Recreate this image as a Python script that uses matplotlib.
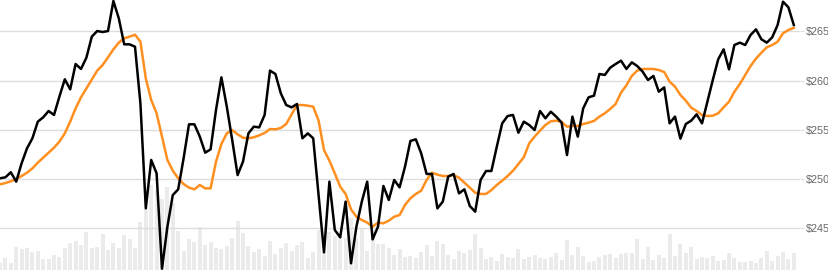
import matplotlib
matplotlib.use("Agg")
import matplotlib.pyplot as plt
import numpy as np

price = [
    250.08, 250.18, 250.69, 249.74, 251.60, 253.12, 254.14, 255.83, 256.27, 256.91, 256.51, 258.37, 260.13, 259.11, 261.68, 261.18, 262.33, 264.46, 265.03,
    264.93, 265.03, 268.08, 266.32, 263.68, 263.68, 263.44, 257.7, 247.03, 251.94, 250.58, 240.9, 245.17, 248.38, 248.96, 252.11, 255.56, 255.56, 254.31,
    252.68, 253.02, 257.01, 260.33, 257.35, 253.97, 250.41, 251.77, 254.64, 255.32, 255.25, 256.51, 261.01, 260.67, 258.71, 257.52, 257.28, 257.62,
    254.14, 254.64, 254.14, 248.38, 242.56, 249.74, 244.83, 244.09, 247.71, 241.45, 245.17, 247.71, 249.74, 243.88, 245.17, 249.30, 247.88, 249.91, 249.16,
    251.26, 253.87, 254.04, 252.61, 250.52, 250.52, 247.03, 247.71, 250.25, 250.52, 248.55, 248.96, 247.27, 246.69, 249.91, 250.82, 250.82, 253.29,
    255.66, 256.40, 256.51, 254.71, 255.83, 255.49, 254.98, 256.91, 256.17, 256.84, 256.34, 255.73, 252.44, 256.34, 254.31, 257.18, 258.30, 258.47, 260.67,
    260.57, 261.31, 261.68, 262.02, 261.18, 261.85, 261.48, 260.91, 260.06, 260.47, 258.87, 259.31, 255.66, 256.34, 254.10, 255.59, 255.93, 256.57, 255.66,
    257.86, 260.06, 262.16, 263.17, 261.14, 263.61, 263.85, 263.61, 264.63, 265.20, 264.19, 263.85, 264.39, 265.64, 268.01, 267.44, 265.64,
]

sma = [
    249.47, 249.60, 249.77, 250.01, 250.31, 250.65, 251.09, 251.67, 252.17, 252.68, 253.19, 253.80, 254.64, 255.83, 257.18, 258.30, 259.21, 260.13, 261.01,
    261.58, 262.36, 263.17, 263.85, 264.29, 264.46, 264.66, 263.95, 260.23, 258.03, 256.68, 254.31, 251.94, 250.85, 250.08, 249.50, 249.13, 248.96, 249.40,
    249.06, 249.06, 251.77, 253.56, 254.64, 254.98, 254.54, 254.20, 254.14, 254.24, 254.44, 254.68, 255.08, 255.05, 255.19, 255.59, 256.57, 257.52,
    257.52, 257.45, 257.35, 255.93, 252.95, 251.87, 250.58, 249.23, 248.49, 246.93, 246.18, 245.85, 245.58, 245.17, 245.58, 245.51, 245.78, 246.18, 246.35,
    247.37, 248.05, 248.49, 248.82, 249.91, 250.65, 250.45, 250.31, 250.31, 250.41, 250.14, 249.64, 249.13, 248.62, 248.49, 248.49, 248.89, 249.40,
    249.84, 250.31, 250.85, 251.53, 252.21, 253.63, 254.31, 254.92, 255.49, 255.86, 255.93, 255.80, 255.32, 255.39, 255.39, 255.59, 255.73, 255.90, 256.34,
    256.68, 257.12, 257.62, 258.77, 259.52, 260.47, 261.01, 261.18, 261.18, 261.18, 261.07, 260.87, 259.89, 259.38, 258.54, 257.96, 257.25, 256.91, 256.51,
    256.40, 256.44, 256.68, 257.28, 257.86, 258.87, 259.65, 260.57, 261.48, 262.23, 262.83, 263.38, 263.61, 263.95, 264.80, 265.14, 265.34,
]

volume = [
    7, 12, 7, 23, 21, 22, 18, 19, 11, 11, 15, 13, 22, 27, 29, 25, 38, 22, 23,
    36, 20, 27, 22, 35, 31, 22, 48, 61, 85, 80, 71, 83, 67, 39, 19, 31, 28, 43,
    25, 28, 22, 21, 24, 32, 49, 37, 24, 18, 21, 14, 29, 16, 22, 27, 19, 25,
    28, 12, 18, 40, 18, 38, 34, 33, 32, 52, 32, 42, 19, 40, 26, 26, 22, 15, 21,
    13, 14, 12, 18, 25, 14, 29, 26, 15, 11, 19, 17, 20, 36, 22, 11, 13, 9,
    16, 13, 12, 21, 11, 13, 15, 12, 11, 13, 17, 10, 30, 15, 23, 14, 8, 9, 13,
    15, 16, 12, 16, 17, 17, 31, 11, 23, 10, 15, 12, 36, 14, 26, 17, 23, 11, 13,
    12, 14, 9, 10, 17, 12, 8, 8, 9, 7, 12, 19, 9, 14, 18, 11, 17,
]

yticks = [245, 250, 255, 260, 265]
ytick_labels = ["$245", "$250", "$255", "$260", "$265"]

W, H = 829, 270
fig = plt.figure(figsize=(W / 100, H / 100), dpi=100)
plot_w = 800 / W
x = np.arange(len(price))
xmax = 800 / 5.4

axv = fig.add_axes([0, 0, plot_w, 1])
axv.bar(x, volume, width=0.75, color="#ebebeb", linewidth=0)
axv.set_xlim(0, xmax)
axv.set_ylim(0, 270)
axv.axis("off")

ax = fig.add_axes([0, 0, plot_w, 1], sharex=None)
ax.patch.set_alpha(0)
ax.set_xlim(0, xmax)
ax.set_ylim(240.77, 268.18)
for t in yticks:
    ax.axhline(t, color="#dddddd", linewidth=1, zorder=0)
ax.plot(x, sma, color="#ff8f1f", linewidth=1.8, zorder=3)
ax.plot(x, price, color="#000000", linewidth=1.8, zorder=4)
ax.set_yticks(yticks)
ax.set_yticklabels(ytick_labels)
ax.yaxis.tick_right()
ax.tick_params(axis="y", length=3, color="#dddddd", pad=1, labelsize=7.8,
               labelcolor="#666666")
for lab in ax.get_yticklabels():
    lab.set_fontfamily("Liberation Sans")
ax.set_xticks([])
for s in ax.spines.values():
    s.set_visible(False)

fig.savefig("out.png", dpi=100)
